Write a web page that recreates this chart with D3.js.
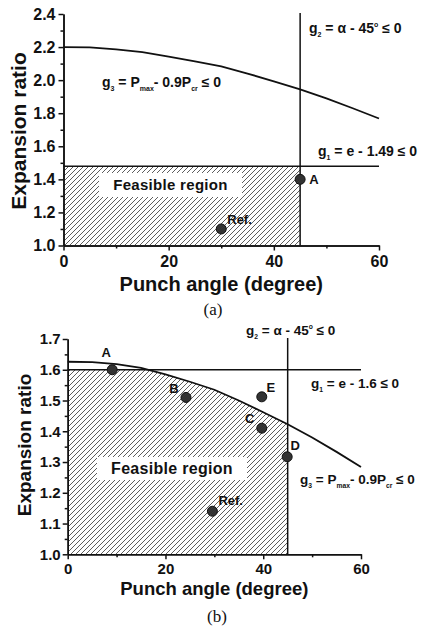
<!DOCTYPE html>
<html>
<head>
<meta charset="utf-8">
<script src="https://cdn.jsdelivr.net/npm/d3@7"></script>
<style>
  body { margin: 0; background: #fff; }
  text { font-family: "Liberation Sans", Arial, sans-serif; font-weight: bold; fill: #111; }
</style>
</head>
<body>
<script>
// ---- data ----
const angles = [0, 5, 10, 15, 20, 25, 30, 35, 40, 45, 50, 55, 60];
// g3 boundary (Pmax = 0.9 Pcr)
const ratioA = [2.20, 2.198, 2.186, 2.170, 2.142, 2.113, 2.083, 2.040, 1.993, 1.944, 1.890, 1.830, 1.768];
const ratioB = [1.626, 1.625, 1.618, 1.606, 1.585, 1.561, 1.535, 1.500, 1.462, 1.423, 1.380, 1.333, 1.284];

const g1A = 1.48, g1B = 1.6, g2Angle = 45;

const labelsA = ["A", "Ref."];
const angleA  = [45, 30];
const expA    = [1.40, 1.10];

const labelsB = ["A", "B", "C", "D", "E", "Ref."];
const angleB  = [9.1, 24.2, 39.7, 44.9, 39.7, 29.6];
const expB    = [1.60, 1.51, 1.41, 1.317, 1.512, 1.14];

const xMajor = [0, 20, 40, 60], xMinor = [10, 30, 50];
const yMajorA = [1.0, 1.2, 1.4, 1.6, 1.8, 2.0, 2.2, 2.4], yMinorA = [1.1, 1.3, 1.5, 1.7, 1.9, 2.1, 2.3];
const yMajorB = [1.0, 1.1, 1.2, 1.3, 1.4, 1.5, 1.6, 1.7], yMinorB = [1.05, 1.15, 1.25, 1.35, 1.45, 1.55, 1.65];

const svg = d3.select("body").append("svg").attr("width", 427).attr("height", 630);
const defs = svg.append("defs");

// hatching for the feasible region
defs.append("pattern")
    .attr("id", "hatch")
    .attr("patternUnits", "userSpaceOnUse")
    .attr("width", 5).attr("height", 5)
  .append("path")
    .attr("d", "M-1,1 L1,-1 M0,5 L5,0 M4,6 L6,4")
    .attr("stroke", "#333")
    .attr("stroke-width", 0.8);

// builds "g_1 = ..." style labels out of tspans
function eqText(g, x, y, parts, size) {
    const t = g.append("text").attr("x", x).attr("y", y).style("font-size", size + "px");
    let cur = 0;
    parts.forEach(p => {
        const kind = p[1] || "n";
        const s = kind === "sub" ? 4 : kind === "sup" ? -6 : 0;
        t.append("tspan")
            .attr("dy", s - cur)
            .style("font-size", kind === "n" ? size + "px" : (size * 0.5) + "px")
            .text(p[0]);
        cur = s;
    });
    return t;
}

function drawPanel(o) {
    const g = svg.append("g");
    const x = d3.scaleLinear().domain([0, 60]).range(o.xr);
    const y = d3.scaleLinear().domain(o.yd).range(o.yr);
    const curve = angles.map((a, i) => ({ a: a, r: o.ratio[i] }));

    // clip = area below the g3 curve
    defs.append("clipPath").attr("id", o.id + "-clip")
      .append("path")
        .attr("d", d3.area().x(d => x(d.a)).y0(y(o.yd[0])).y1(d => y(d.r))(curve));

    g.append("rect")
        .attr("x", x(0)).attr("y", y(o.g1))
        .attr("width", x(g2Angle) - x(0)).attr("height", y(o.yd[0]) - y(o.g1))
        .attr("fill", "url(#hatch)")
        .attr("clip-path", "url(#" + o.id + "-clip)");

    // label box
    g.append("rect")
        .attr("x", o.box[0]).attr("y", o.box[1]).attr("width", o.box[2]).attr("height", o.box[3])
        .attr("fill", "#fff");
    g.append("text")
        .attr("x", o.box[0] + o.box[2] / 2).attr("y", o.box[1] + o.box[3] / 2)
        .attr("dy", "0.36em")
        .attr("text-anchor", "middle")
        .style("font-size", o.boxFont + "px")
        .style("letter-spacing", "0.3px")
        .text("Feasible region");

    // axes
    const xa = g.append("g").attr("transform", `translate(0,${y(o.yd[0])})`)
        .call(d3.axisBottom(x).tickValues(xMajor).tickSize(5).tickSizeOuter(0).tickPadding(o.xPad).tickFormat(d3.format("d")));
    g.append("g").attr("transform", `translate(0,${y(o.yd[0])})`)
        .call(d3.axisBottom(x).tickValues(xMinor).tickSize(3).tickSizeOuter(0).tickFormat(""));
    const ya = g.append("g").attr("transform", `translate(${x(0)},0)`)
        .call(d3.axisLeft(y).tickValues(o.yMajor).tickSize(5).tickSizeOuter(0).tickPadding(o.yPad).tickFormat(d3.format(".1f")));
    g.append("g").attr("transform", `translate(${x(0)},0)`)
        .call(d3.axisLeft(y).tickValues(o.yMinor).tickSize(3).tickSizeOuter(0).tickFormat(""));
    g.selectAll(".domain, .tick line").attr("stroke", "#111").attr("stroke-width", 1.5);
    xa.selectAll("text").style("font-size", o.tickFont + "px").attr("fill", "#111");
    ya.selectAll("text").style("font-size", o.tickFont + "px").attr("fill", "#111");

    // g3 curve
    g.append("path")
        .datum(curve)
        .attr("fill", "none").attr("stroke", "#111").attr("stroke-width", 1.8)
        .attr("d", d3.line().x(d => x(d.a)).y(d => y(d.r)));

    // g1 and g2 lines
    g.append("line")
        .attr("x1", x(0)).attr("x2", x(60)).attr("y1", y(o.g1)).attr("y2", y(o.g1))
        .attr("stroke", "#111").attr("stroke-width", 1.5);
    g.append("line")
        .attr("x1", x(g2Angle)).attr("x2", x(g2Angle)).attr("y1", y(o.yd[1]) - 1).attr("y2", y(o.yd[0]))
        .attr("stroke", "#111").attr("stroke-width", 1.5);

    // design points
    o.labels.forEach((lab, i) => {
        const px = x(o.px[i]), py = y(o.py[i]);
        g.append("circle").attr("cx", px).attr("cy", py).attr("r", 5)
            .attr("fill", "#333").attr("stroke", "#111").attr("stroke-width", 1);
        const off = o.off[lab];
        g.append("text")
            .attr("x", px + off[0]).attr("y", py + off[1])
            .attr("text-anchor", off[2] || "start")
            .style("font-size", o.ptFont + "px")
            .text(lab);
    });

    // axis titles
    g.append("text")
        .attr("x", (x(0) + x(60)) / 2).attr("y", o.xTitleY)
        .attr("text-anchor", "middle")
        .style("font-size", o.xTitleFont + "px")
        .text("Punch angle (degree)");
    g.append("text")
        .attr("transform", `translate(${o.yTitleX},${o.yTitleY}) rotate(-90)`)
        .attr("text-anchor", "middle")
        .style("font-size", o.yTitleFont + "px")
        .text("Expansion ratio");
    g.append("text")
        .attr("x", o.cap[0]).attr("y", o.cap[1])
        .attr("text-anchor", "middle")
        .style("font-family", "'Liberation Serif', 'Times New Roman', serif")
        .style("font-weight", "normal")
        .style("font-size", "17px")
        .text(o.capText);

    return g;
}

const ga = drawPanel({
    id: "a", xr: [63.5, 379], yd: [1.0, 2.4], yr: [245.5, 14],
    ratio: ratioA, g1: g1A, yMajor: yMajorA, yMinor: yMinorA,
    labels: labelsA, px: angleA, py: expA,
    off: { "A": [9, 5], "Ref.": [6, -5] },
    box: [99, 173, 143, 24], boxFont: 15,
    tickFont: 16, xPad: 5, yPad: 3, ptFont: 13,
    xTitleY: 291, xTitleFont: 20, yTitleX: 26, yTitleY: 131, yTitleFont: 21,
    cap: [213, 315], capText: "(a)"
});
eqText(ga, 309, 33, [["g"], ["2", "sub"], [" = α - 45"], ["o", "sup"], [" ≤ 0"]], 14);
eqText(ga, 318, 156, [["g"], ["1", "sub"], [" = e - 1.49 ≤ 0"]], 14);
eqText(ga, 102, 87, [["g"], ["3", "sub"], [" = P"], ["max", "sub"], ["- 0.9P"], ["cr", "sub"], [" ≤ 0"]], 14);

const gb = drawPanel({
    id: "b", xr: [67.7, 361], yd: [1.0, 1.7], yr: [554.3, 339],
    ratio: ratioB, g1: g1B, yMajor: yMajorB, yMinor: yMinorB,
    labels: labelsB, px: angleB, py: expB,
    off: { "A": [-6, -13, "middle"], "B": [-12, -4, "middle"], "C": [-12, -5, "middle"],
           "D": [8, -7, "middle"], "E": [9, -5, "middle"], "Ref.": [6, -6] },
    box: [97, 457, 150, 23], boxFont: 16,
    tickFont: 15, xPad: 4, yPad: 2, ptFont: 13,
    xTitleY: 595, xTitleFont: 18.5, yTitleX: 31, yTitleY: 445, yTitleFont: 19,
    cap: [217, 622], capText: "(b)"
});
eqText(gb, 246, 335, [["g"], ["2", "sub"], [" = α - 45"], ["o", "sup"], [" ≤ 0"]], 13.5);
eqText(gb, 311, 388, [["g"], ["1", "sub"], [" = e - 1.6 ≤ 0"]], 13.5);
eqText(gb, 300, 484, [["g"], ["3", "sub"], [" = P"], ["max", "sub"], ["- 0.9P"], ["cr", "sub"], [" ≤ 0"]], 13.5);
</script>
</body>
</html>
